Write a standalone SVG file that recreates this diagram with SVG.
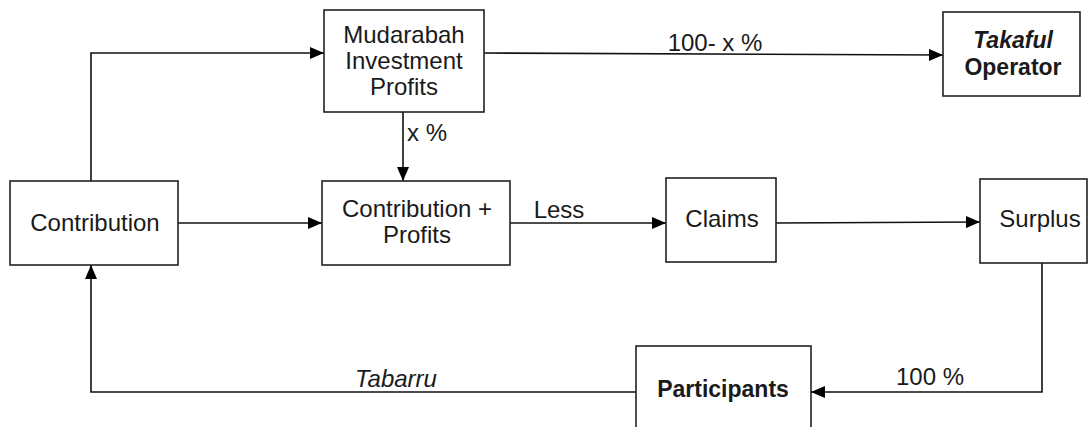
<svg xmlns="http://www.w3.org/2000/svg" width="1089" height="427" viewBox="0 0 1089 427">
<style>
.box{fill:#fff;stroke:#222;stroke-width:1.6}
.t{font-family:"Liberation Sans",Arial,sans-serif;font-size:24px;fill:#1a1a1a;text-anchor:middle}
.b{font-weight:bold;font-size:23px}
.i{font-style:italic}
.ln{fill:none;stroke:#111;stroke-width:1.6}
</style>
<defs>
<marker id="ah" viewBox="0 0 14 12" refX="14" refY="6" markerWidth="14" markerHeight="12" markerUnits="userSpaceOnUse" orient="auto">
<path d="M0,0 L14,6 L0,12 Z" fill="#000"/>
</marker>
</defs>
<rect width="1089" height="427" fill="#fff"/>
<g id="connectors">
<path class="ln" d="M91,181 V53 H324" marker-end="url(#ah)"/>
<path class="ln" d="M484,53 L943,55" marker-end="url(#ah)"/>
<path class="ln" d="M403,112 V181" marker-end="url(#ah)"/>
<path class="ln" d="M178,223 H322" marker-end="url(#ah)"/>
<path class="ln" d="M510,223 H666" marker-end="url(#ah)"/>
<path class="ln" d="M776,223 L980,222" marker-end="url(#ah)"/>
<path class="ln" d="M1042,263 V392 H811" marker-end="url(#ah)"/>
<path class="ln" d="M636,392 H91 V265" marker-end="url(#ah)"/>
<text class="t" x="715" y="51">100- x %</text>
<text class="t" x="427" y="141">x %</text>
<text class="t" x="559" y="218">Less</text>
<text class="t" x="930" y="385">100 %</text>
<text class="t i" x="396" y="387">Tabarru</text>
</g>
<g id="mudarabah">
<rect class="box" x="324" y="10" width="160" height="102"/>
<text class="t" x="404" y="43">Mudarabah</text>
<text class="t" x="404" y="69">Investment</text>
<text class="t" x="404" y="95">Profits</text>
</g>
<g id="takaful">
<rect class="box" x="943" y="12" width="137" height="84"/>
<text class="t b i" x="1013" y="48">Takaful</text>
<text class="t b" x="1013" y="75">Operator</text>
</g>
<g id="contribution">
<rect class="box" x="10" y="181" width="168" height="84"/>
<text class="t" x="95" y="231">Contribution</text>
</g>
<g id="contribution-profits">
<rect class="box" x="322" y="181" width="188" height="84"/>
<text class="t" x="417" y="217">Contribution +</text>
<text class="t" x="417" y="243">Profits</text>
</g>
<g id="claims">
<rect class="box" x="666" y="178" width="110" height="84"/>
<text class="t" x="722" y="227">Claims</text>
</g>
<g id="surplus">
<rect class="box" x="980" y="179" width="107" height="84"/>
<text class="t" x="1040" y="227">Surplus</text>
</g>
<g id="participants">
<rect class="box" x="636" y="346" width="175" height="100"/>
<text class="t b" x="723" y="397">Participants</text>
</g>
</svg>
